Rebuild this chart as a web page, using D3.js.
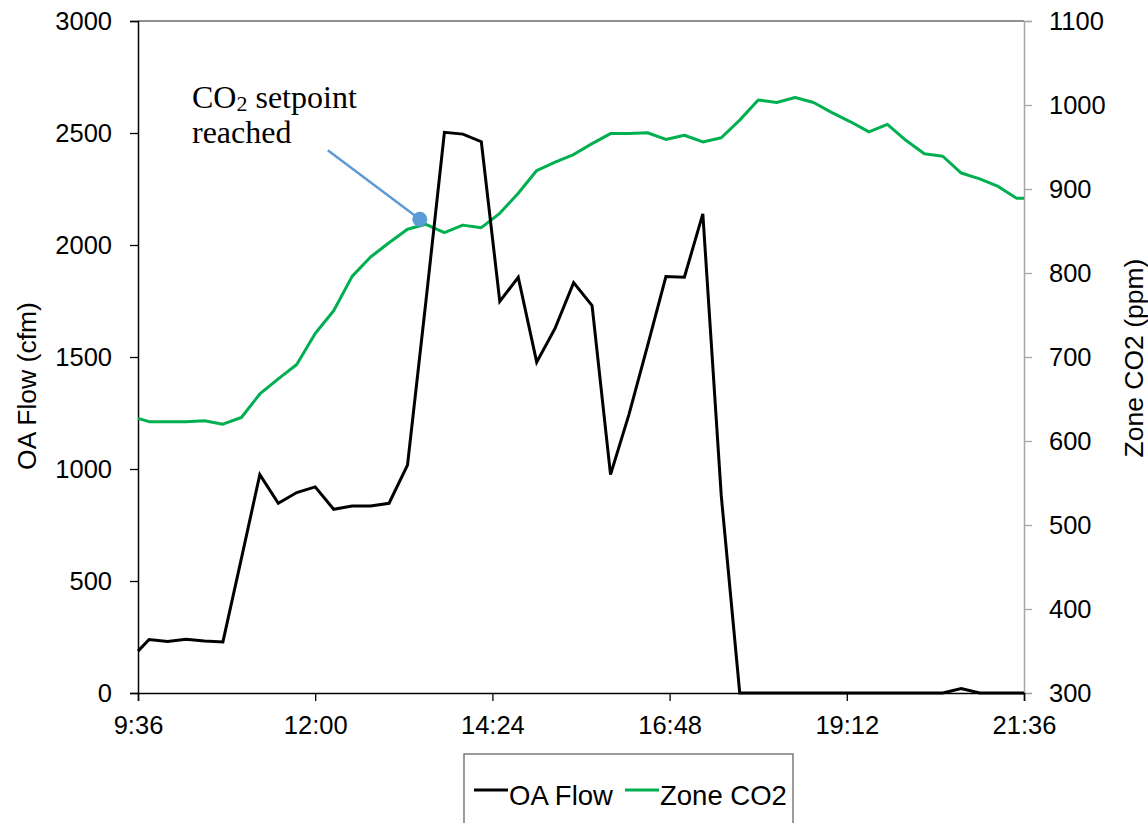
<!DOCTYPE html>
<html>
<head>
<meta charset="utf-8">
<script src="https://cdn.jsdelivr.net/npm/d3@7"></script>
<style>
  body { margin: 0; background: #fff; }
  svg text { font-family: "Liberation Sans", Arial, sans-serif; fill: #000; }
</style>
</head>
<body>
<div id="canvas"></div>
<script>
// time stamps (one reading every 15 minutes, ends cut at the axis limits)
const times = [
  "9:36", "9:45", "10:00", "10:15", "10:30", "10:45", "11:00", "11:15", "11:30", "11:45",
  "12:00", "12:15", "12:30", "12:45", "13:00", "13:15", "13:30", "13:45", "14:00", "14:15",
  "14:30", "14:45", "15:00", "15:15", "15:30", "15:45", "16:00", "16:15", "16:30", "16:45",
  "17:00", "17:15", "17:30", "17:45", "18:00", "18:15", "18:30", "18:45", "19:00", "19:15",
  "19:30", "19:45", "20:00", "20:15", "20:30", "20:45", "21:00", "21:15", "21:30", "21:36"
];

// OA Flow (cfm), left axis
const oaFlow = [
  187, 239, 230, 240, 232, 228, 600, 975, 847, 895,
  920, 820, 835, 835, 847, 1017, 1750, 2503, 2495, 2461,
  1748, 1856, 1477, 1629, 1832, 1730, 975, 1244, 1549, 1859,
  1856, 2139, 880, 0, 0, 0, 0, 0, 0, 0,
  0, 0, 0, 0, 0, 20, 0, 0, 0, 0
];

// Zone CO2 (ppm), right axis
const zoneCO2 = [
  627, 623, 623, 623, 624, 620, 628, 656, 674, 691,
  728, 755, 796, 819, 836, 852, 858, 848, 857, 854,
  871, 895, 922, 932, 941, 954, 966, 966, 967, 959,
  964, 956, 961, 982, 1006, 1003, 1009, 1003, 991, 980,
  968, 977, 958, 942, 939, 919, 912, 903, 889, 889
];

const xTicks = ["9:36", "12:00", "14:24", "16:48", "19:12", "21:36"];
const leftTicks = [0, 500, 1000, 1500, 2000, 2500, 3000];
const rightTicks = [300, 400, 500, 600, 700, 800, 900, 1000, 1100];

// annotation marker on the CO2 line
const setpointTime = "13:25";
const setpointCO2 = 864;

const width = 1148;
const height = 823;
const margin = { top: 21, left: 138, bottom: 130, right: 124 };

const parse = d3.timeParse("%H:%M");
const fmt = d3.timeFormat("%-H:%M");

const svg = d3.select("#canvas").append("svg")
  .attr("width", width)
  .attr("height", height);

const x = d3.scaleTime()
  .domain([parse("9:36"), parse("21:36")])
  .range([margin.left, width - margin.right]);

const yL = d3.scaleLinear().domain([0, 3000]).range([height - margin.bottom, margin.top]);
const yR = d3.scaleLinear().domain([300, 1100]).range([height - margin.bottom, margin.top]);

const data = times.map((t, i) => ({ t: parse(t), flow: oaFlow[i], co2: zoneCO2[i] }));

// top border of plot area
svg.append("line")
  .attr("x1", margin.left).attr("x2", width - margin.right)
  .attr("y1", yL(3000)).attr("y2", yL(3000))
  .attr("stroke", "#6b6b6b").attr("stroke-width", 1.3);

// right axis (grey)
const gR = svg.append("g")
  .attr("transform", `translate(${width - margin.right},0)`)
  .call(d3.axisRight(yR).tickValues(rightTicks).tickFormat(d3.format("d")).tickSize(8).tickPadding(17));
gR.select(".domain").attr("stroke", "#a6a6a6").attr("stroke-width", 1.5);
gR.selectAll(".tick line").attr("stroke", "#a6a6a6").attr("stroke-width", 1.3);
gR.selectAll("text").style("font-size", "25.5px");

// left axis
const gL = svg.append("g")
  .attr("transform", `translate(${margin.left},0)`)
  .call(d3.axisLeft(yL).tickValues(leftTicks).tickFormat(d3.format("d")).tickSize(8).tickPadding(18));
gL.select(".domain").attr("stroke", "#000").attr("stroke-width", 1.5);
gL.selectAll(".tick line").attr("stroke", "#000").attr("stroke-width", 1.3);
gL.selectAll("text").style("font-size", "25.5px");

// bottom axis
const gX = svg.append("g")
  .attr("transform", `translate(0,${height - margin.bottom})`)
  .call(d3.axisBottom(x).tickValues(xTicks.map(parse)).tickFormat(fmt).tickSize(8).tickPadding(15));
gX.select(".domain").attr("stroke", "#000").attr("stroke-width", 1.5);
gX.selectAll(".tick line").attr("stroke", "#000").attr("stroke-width", 1.3);
gX.selectAll("text").style("font-size", "25.5px");

// lines
const flowLine = d3.line().x(d => x(d.t)).y(d => yL(d.flow));
const co2Line = d3.line().x(d => x(d.t)).y(d => yR(d.co2));

svg.append("path").datum(data)
  .attr("d", co2Line)
  .attr("fill", "none")
  .attr("stroke", "#00b050")
  .attr("stroke-width", 3)
  .attr("stroke-linejoin", "round");

svg.append("path").datum(data)
  .attr("d", flowLine)
  .attr("fill", "none")
  .attr("stroke", "#000")
  .attr("stroke-width", 3)
  .attr("stroke-linejoin", "miter");

// axis titles
svg.append("text")
  .attr("transform", `translate(36,386) rotate(-90)`)
  .attr("text-anchor", "middle")
  .style("font-size", "26.5px")
  .text("OA Flow (cfm)");

svg.append("text")
  .attr("transform", `translate(1143,358) rotate(-90)`)
  .attr("text-anchor", "middle")
  .style("font-size", "26.5px")
  .text("Zone CO2 (ppm)");

// annotation
const px = x(parse(setpointTime));
const py = yR(setpointCO2);
svg.append("line")
  .attr("x1", px - 92).attr("y1", py - 69)
  .attr("x2", px).attr("y2", py)
  .attr("stroke", "#5b9bd5").attr("stroke-width", 2.4);
svg.append("circle")
  .attr("cx", px).attr("cy", py).attr("r", 7.5)
  .attr("fill", "#5b9bd5");

const noteFont = "'Palatino Linotype', 'Book Antiqua', 'Liberation Serif', serif";
const note = svg.append("text")
  .attr("x", 192).attr("y", 108)
  .style("font-family", noteFont)
  .style("font-size", "32px");
note.append("tspan").text("CO");
note.append("tspan").attr("dy", 3).style("font-size", "22px").text("2");
note.append("tspan").attr("dy", -3).text(" setpoint");
svg.append("text")
  .attr("x", 192).attr("y", 143)
  .style("font-family", noteFont)
  .style("font-size", "32px")
  .text("reached");

// legend
const legend = svg.append("g");
legend.append("rect")
  .attr("x", 464).attr("y", 754)
  .attr("width", 329).attr("height", 90)
  .attr("fill", "#fff")
  .attr("stroke", "#666").attr("stroke-width", 1.3);

const legendItems = [
  { name: "OA Flow", color: "#000", x0: 474 },
  { name: "Zone CO2", color: "#00b050", x0: 625 }
];
legendItems.forEach(it => {
  legend.append("line")
    .attr("x1", it.x0).attr("x2", it.x0 + 34)
    .attr("y1", 790).attr("y2", 790)
    .attr("stroke", it.color).attr("stroke-width", 3);
  legend.append("text")
    .attr("x", it.x0 + 35).attr("y", 805)
    .style("font-size", "27.5px")
    .text(it.name);
});
</script>
</body>
</html>
